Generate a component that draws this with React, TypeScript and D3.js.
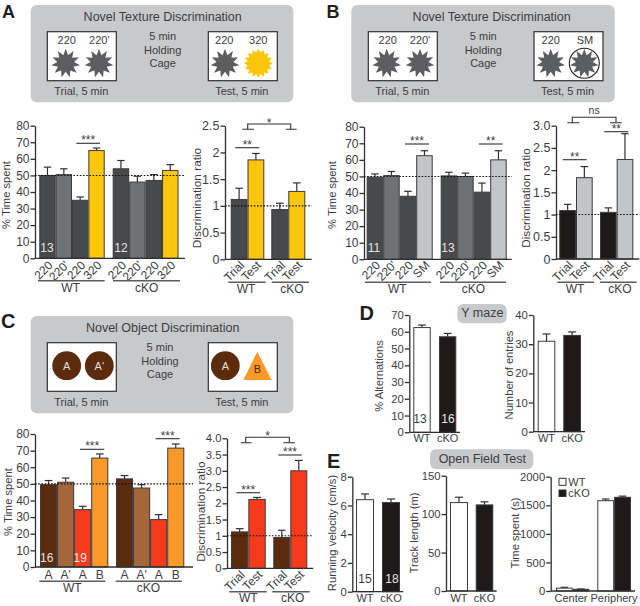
import React, { useEffect, useRef } from 'react';
import * as d3 from 'd3';

const FONT = '"Liberation Sans", Arial, sans-serif';
const INK = '#3c3d3f';
const DARK = '#48494b';
const MID = '#6f7174';
const YELLOW = '#fdc60b';
const LIGHT = '#c3c5c7';
const BLACK = '#1e1a19';
const BROWN = '#5a2b0c';
const TAN = '#a5673a';
const RED = '#f63b1c';
const ORANGE = '#fb9a2a';
const CARD = '#c7c9cb';

// Values
const timeTicks = [0, 10, 20, 30, 40, 50, 60, 70, 80];
const textureLabelsA = ['220', "220'", '220', '320', '220', "220'", '220', '320'];
const textureLabelsB = ['220', "220'", '220', 'SM', '220', "220'", '220', 'SM'];
const objectLabels = ['A', "A'", 'A', 'B', 'A', "A'", 'A', 'B'];
const ratioLabels = ['Trial', 'Test', 'Trial', 'Test'];
const genotypes = ['WT', 'cKO'];

const timeA = [50, 50.5, 35, 65, 54, 46, 47, 53];
const timeATop = [55, 54, 37, 66.5, 59, 49.5, 50.5, 56.5];
const ratioA = [1.12, 1.86, 0.93, 1.27];
const ratioATop = [1.33, 1.98, 1.05, 1.43];
const ratioATicks = [0, 0.5, 1, 1.5, 2, 2.5];
const ratioATickLabels = ['0', '0.5', '1', '1.5', '2', '2.5'];

const timeB = [49.5, 50.5, 38, 62.5, 50.3, 50, 40.5, 60];
const timeBTop = [51.5, 53, 41, 65.5, 52.5, 52, 46, 65.5];
const ratioB = [1.09, 1.83, 1.05, 2.24];
const ratioBTop = [1.23, 2.08, 1.15, 2.82];
const ratioBTicks = [0, 0.5, 1, 1.5, 2, 2.5, 3];
const ratioBTickLabels = ['0', '0.5', '1', '1.5', '2', '2.5', '3.0'];

const timeC = [49.5, 51, 34.5, 65.5, 53, 47.5, 28.5, 71.5];
const timeCTop = [52, 53.5, 36.5, 68, 55, 49.5, 31.5, 74];
const ratioC = [1.12, 2.12, 0.95, 3.0];
const ratioCTop = [1.22, 2.18, 1.17, 3.32];
const ratioCTicks = [0, 0.5, 1, 1.5, 2, 2.5, 3, 3.5, 4];
const ratioCTickLabels = ['0', '0.5', '1', '1.5', '2', '2.5', '3.0', '3.5', '4.0'];

const alternations = [62.5, 57];
const alternationsTop = [64, 59];
const alternationTicks = [0, 10, 20, 30, 40, 50, 60, 70];
const entries = [31, 33];
const entriesTop = [33.5, 34.2];
const entryTicks = [0, 10, 20, 30, 40];
const velocity = [6.4, 6.2];
const velocityTop = [6.8, 6.45];
const velocityTicks = [0, 2, 4, 6, 8];
const trackLength = [115, 112];
const trackLengthTop = [122, 116];
const trackTicks = [0, 50, 100, 150];
const zoneTime = [50, 30, 1580, 1640];
const zoneTimeTop = [65, 35, 1610, 1660];
const zoneTicks = [0, 500, 1000, 1500, 2000];
const zoneLabels = ['Center', 'Periphery'];

const textureAColors = [DARK, MID, DARK, YELLOW, DARK, MID, DARK, YELLOW];
const textureBColors = [DARK, MID, DARK, LIGHT, DARK, MID, DARK, LIGHT];
const objectColors = [BROWN, TAN, RED, ORANGE, BROWN, TAN, RED, ORANGE];
const pairColors = ['#ffffff', BLACK];
const zoneColors = ['#ffffff', BLACK, '#ffffff', BLACK];

type Note = { x: number; y: number; text: string; fill?: string };
type Star = { x1: number; x2: number; y: number; text: string };
type Bracket = { x1: number; x2: number; y: number; foot1: [number, number]; foot2: [number, number]; footY: number; text: string };
type Under = { x1: number; x2: number; text: string; cx: number };

type PanelProps = {
  axisX: number;
  endX: number;
  yTop: number;
  yBottom: number;
  domain: [number, number];
  ticks: number[];
  tickLabels?: string[];
  tickFont?: number;
  groups: [number, number][];
  values: number[];
  tops: number[];
  colors: string[];
  labels: string[];
  labelFont?: number;
  rotate?: boolean;
  labelY: number;
  yLabel: string;
  yLabelFont?: number;
  yLabelX: number;
  yLabelY: number;
  refLine?: number;
  notes?: Note[];
  stars?: Star[];
  brackets?: Bracket[];
  unders?: Under[];
  underY?: number;
  underTextY?: number;
};

const T = ({ x, y, size = 11, fill = INK, anchor = 'middle', children, ...rest }: any) => (
  <text x={x} y={y} fontSize={size} fill={fill} textAnchor={anchor} fontFamily={FONT} {...rest}>
    {children}
  </text>
);

function BarPanel(p: PanelProps) {
  const axisRef = useRef<SVGGElement>(null);
  const y = d3.scaleLinear().domain(p.domain).range([p.yBottom, p.yTop]);
  const labelFont = p.labelFont ?? 12;

  useEffect(() => {
    const axis = d3
      .axisLeft(y)
      .tickValues(p.ticks)
      .tickSize(4.5)
      .tickSizeOuter(0)
      .tickPadding(1)
      .tickFormat((d, i) => (p.tickLabels ? p.tickLabels[i] : String(d)));
    const g = d3.select(axisRef.current);
    g.selectAll('*').remove();
    g.call(axis as any);
    g.selectAll('path, line').attr('stroke', '#2f3032').attr('stroke-width', 1.3);
    g.selectAll('text').attr('fill', INK).attr('font-size', p.tickFont ?? 12).attr('font-family', FONT);
  }, []);

  // one band scale per group of touching bars
  let offset = 0;
  const xOf: { x: number; w: number }[] = [];
  p.groups.forEach((range) => {
    const n = Math.round(p.values.length / p.groups.length);
    const idx = d3.range(offset, offset + n);
    const band = d3.scaleBand<number>().domain(idx).range(range);
    idx.forEach((i) => xOf.push({ x: band(i) as number, w: band.bandwidth() }));
    offset += n;
  });

  return (
    <g>
      {p.values.map((v, i) => {
        const { x, w } = xOf[i];
        const c = x + w / 2;
        const capW = Math.min(w * 0.45, 8);
        return (
          <g key={i}>
            <line x1={c} x2={c} y1={y(v)} y2={y(p.tops[i])} stroke="#2f3032" strokeWidth={1.2} />
            <line x1={c - capW / 2} x2={c + capW / 2} y1={y(p.tops[i])} y2={y(p.tops[i])} stroke="#2f3032" strokeWidth={1.2} />
            <rect x={x + 0.5} y={y(v)} width={w - 1} height={y(0) - y(v)} fill={p.colors[i]} stroke="#3a3b3c" strokeWidth={1} />
          </g>
        );
      })}
      <g ref={axisRef} transform={`translate(${p.axisX},0)`} />
      <line x1={p.axisX} x2={p.endX} y1={y(0)} y2={y(0)} stroke="#2f3032" strokeWidth={1.3} />
      {p.refLine !== undefined && (
        <line x1={p.axisX} x2={p.endX} y1={y(p.refLine)} y2={y(p.refLine)} stroke="#111" strokeWidth={1.1} strokeDasharray="1.6 1.6" />
      )}
      {p.labels.map((l, i) => {
        const c = xOf[i].x + xOf[i].w / 2;
        return p.rotate ? (
          <T key={i} x={0} y={0} size={labelFont} anchor="end" transform={`translate(${c + 6},${p.labelY}) rotate(-45)`}>
            {l}
          </T>
        ) : (
          <T key={i} x={c} y={p.labelY} size={labelFont}>
            {l}
          </T>
        );
      })}
      <T x={0} y={0} size={p.yLabelFont ?? 11.2} transform={`translate(${p.yLabelX},${p.yLabelY}) rotate(-90)`}>
        {p.yLabel}
      </T>
      {(p.unders || []).map((u, i) => (
        <g key={i}>
          <line x1={u.x1} x2={u.x2} y1={p.underY} y2={p.underY} stroke="#5c5d5f" strokeWidth={1.5} />
          <T x={u.cx} y={p.underTextY} size={12}>
            {u.text}
          </T>
        </g>
      ))}
      {(p.stars || []).map((s, i) => (
        <g key={i}>
          <line x1={s.x1} x2={s.x2} y1={s.y} y2={s.y} stroke="#2f3032" strokeWidth={1.1} />
          <T x={(s.x1 + s.x2) / 2} y={s.y + 1} size={12}>
            {s.text}
          </T>
        </g>
      ))}
      {(p.brackets || []).map((b, i) => (
        <g key={i} stroke="#2f3032" strokeWidth={1.1} fill="none">
          <path d={`M${b.x1},${b.footY}V${b.y}H${b.x2}V${b.footY}`} />
          <path d={`M${b.foot1[0]},${b.footY}H${b.foot1[1]}M${b.foot2[0]},${b.footY}H${b.foot2[1]}`} />
          <T x={(b.x1 + b.x2) / 2} y={b.text === 'ns' ? b.y - 3 : b.y + 3} size={b.text === 'ns' ? 10.5 : 12} stroke="none">
            {b.text}
          </T>
        </g>
      ))}
      {(p.notes || []).map((n, i) => (
        <T key={i} x={n.x} y={n.y} size={12} fill={n.fill || '#e4e4e4'}>
          {n.text}
        </T>
      ))}
    </g>
  );
}

const radial = d3.lineRadial<number>().curve(d3.curveLinearClosed);

function Burst({ x, y, spikes, outer, inner, fill }: any) {
  const pts = d3.range(spikes * 2);
  const path = radial
    .angle((i) => (i * Math.PI) / spikes)
    .radius((i) => (i % 2 === 0 ? outer : inner))(pts) as string;
  return <path d={path} transform={`translate(${x},${y})`} fill={fill} />;
}

function Card({ x1, x2, y1, y2, title, titleX, midX, left, right, h = 49 }: any) {
  const boxTop = y1 + 26.7;
  return (
    <g>
      <rect x={x1} y={y1} width={x2 - x1} height={y2 - y1} rx={6} fill={CARD} />
      <T x={titleX} y={y1 + 15.5} size={12.5}>
        {title}
      </T>
      <T x={midX} y={y1 + 34.5}>5 min</T>
      <T x={midX} y={y1 + 48.5}>Holding</T>
      <T x={midX} y={y1 + 62}>Cage</T>
      <rect x={left} y={boxTop} width={69} height={h} fill="#fff" stroke="#2f3032" strokeWidth={1.2} />
      <rect x={right} y={boxTop} width={69} height={h} fill="#fff" stroke="#2f3032" strokeWidth={1.2} />
      <T x={left + 34} y={y1 + 90}>Trial, 5 min</T>
      <T x={right + 33.5} y={y1 + 90}>Test, 5 min</T>
    </g>
  );
}

const panels: PanelProps[] = [
  {
    axisX: 35, endX: 185, yTop: 125.7, yBottom: 258.3, domain: [0, 80], ticks: timeTicks,
    groups: [[39.3, 104.7], [112.7, 178.5]], values: timeA, tops: timeATop, colors: textureAColors,
    labels: textureLabelsA, rotate: true, labelY: 266, yLabel: '% Time spent', yLabelX: 10, yLabelY: 195, refLine: 50,
    notes: [{ x: 47, y: 251.7, text: '13' }, { x: 121, y: 251.7, text: '12' }],
    stars: [{ x1: 76.3, x2: 100, y: 143.3, text: '***' }],
    unders: [{ x1: 38, x2: 104.7, text: genotypes[0], cx: 70.7 }, { x1: 113, x2: 180, text: genotypes[1], cx: 146.7 }],
    underY: 280.7, underTextY: 292,
  },
  {
    axisX: 225, endX: 311.7, yTop: 125.7, yBottom: 259.3, domain: [0, 2.5], ticks: ratioATicks, tickLabels: ratioATickLabels, tickFont: 12.5,
    groups: [[230.7, 264.3], [271.3, 305.3]], values: ratioA, tops: ratioATop, colors: [DARK, YELLOW, DARK, YELLOW],
    labels: ratioLabels, rotate: true, labelY: 266, yLabel: 'Discrimination ratio', yLabelFont: 11.8, yLabelX: 201, yLabelY: 198, refLine: 1,
    stars: [{ x1: 235.3, x2: 259.3, y: 147.7, text: '**' }],
    brackets: [{ x1: 247.7, x2: 290.7, y: 124, foot1: [242.3, 254], foot2: [285.7, 296.7], footY: 129.3, text: '*' }],
    unders: [{ x1: 228.3, x2: 265.7, text: genotypes[0], cx: 246 }, { x1: 271.7, x2: 309, text: genotypes[1], cx: 292 }],
    underY: 282.3, underTextY: 293,
  },
  {
    axisX: 364, endX: 511.7, yTop: 126.7, yBottom: 259.3, domain: [0, 80], ticks: timeTicks,
    groups: [[366.7, 432.7], [440.7, 506.7]], values: timeB, tops: timeBTop, colors: textureBColors,
    labels: textureLabelsB, rotate: true, labelY: 266, yLabel: '% Time spent', yLabelX: 336, yLabelY: 195, refLine: 50,
    notes: [{ x: 374, y: 251.7, text: '11' }, { x: 448, y: 251.7, text: '13' }],
    stars: [{ x1: 405, x2: 429, y: 144, text: '***' }, { x1: 478.7, x2: 502.7, y: 144, text: '**' }],
    unders: [{ x1: 365, x2: 431, text: genotypes[0], cx: 397.3 }, { x1: 440, x2: 506, text: genotypes[1], cx: 473.3 }],
    underY: 282.3, underTextY: 293,
  },
  {
    axisX: 556, endX: 639.3, yTop: 125.7, yBottom: 259, domain: [0, 3], ticks: ratioBTicks, tickLabels: ratioBTickLabels, tickFont: 12.5,
    groups: [[559.3, 592.7], [600, 633.3]], values: ratioB, tops: ratioBTop, colors: [BLACK, LIGHT, BLACK, LIGHT],
    labels: ratioLabels, rotate: true, labelY: 266, yLabel: 'Discrimination ratio', yLabelFont: 11.7, yLabelX: 530, yLabelY: 198, refLine: 1,
    stars: [{ x1: 562.7, x2: 586.7, y: 159.7, text: '**' }, { x1: 604.3, x2: 628.3, y: 131.7, text: '**' }],
    brackets: [{ x1: 572.3, x2: 616, y: 117.3, foot1: [567.3, 579.3], foot2: [610, 621.7], footY: 122.7, text: 'ns' }],
    unders: [{ x1: 557.3, x2: 594, text: genotypes[0], cx: 575 }, { x1: 600, x2: 636.7, text: genotypes[1], cx: 620 }],
    underY: 282.3, underTextY: 293,
  },
  {
    axisX: 35, endX: 193, yTop: 434, yBottom: 567, domain: [0, 80], ticks: timeTicks,
    groups: [[40, 108.3], [116, 184.3]], values: timeC, tops: timeCTop, colors: objectColors,
    labels: objectLabels, labelY: 578.5, yLabel: '% Time spent', yLabelX: 12, yLabelY: 502, refLine: 50,
    notes: [{ x: 46.7, y: 561.7, text: '16' }, { x: 80.3, y: 561.7, text: '19' }],
    stars: [{ x1: 80, x2: 104.3, y: 449.3, text: '***' }, { x1: 155.7, x2: 179.7, y: 438.7, text: '***' }],
    unders: [{ x1: 39.3, x2: 105.3, text: genotypes[0], cx: 72.3 }, { x1: 115.7, x2: 181.7, text: genotypes[1], cx: 148.3 }],
    underY: 581.3, underTextY: 592.3,
  },
  {
    axisX: 227, endX: 313.3, yTop: 438.3, yBottom: 568.3, domain: [0, 4], ticks: ratioCTicks, tickLabels: ratioCTickLabels, tickFont: 11.3,
    groups: [[231, 265.7], [273.3, 307.3]], values: ratioC, tops: ratioCTop, colors: [BROWN, RED, BROWN, RED],
    labels: ratioLabels, rotate: true, labelY: 575.5, yLabel: 'Discrimination ratio', yLabelFont: 11.8, yLabelX: 204.5, yLabelY: 511.7, refLine: 1,
    stars: [{ x1: 236.3, x2: 260, y: 492.7, text: '***' }, { x1: 278.3, x2: 301.7, y: 455, text: '***' }],
    brackets: [{ x1: 245.7, x2: 289.3, y: 437.3, foot1: [241, 251.7], foot2: [283.3, 295], footY: 442.7, text: '*' }],
    unders: [{ x1: 229.3, x2: 266.7, text: genotypes[0], cx: 248.3 }, { x1: 272.3, x2: 309.7, text: genotypes[1], cx: 292.7 }],
    underY: 591.7, underTextY: 601.7,
  },
  {
    axisX: 409.3, endX: 460, yTop: 315, yBottom: 432.3, domain: [0, 70], ticks: alternationTicks, tickFont: 11.3,
    groups: [[413.3, 430.7], [439, 456.3]], values: alternations, tops: alternationsTop, colors: pairColors,
    labels: genotypes, labelFont: 11, labelY: 442, yLabel: '% Alternations', yLabelX: 383, yLabelY: 376,
    notes: [{ x: 420, y: 423.3, text: '13', fill: INK }, { x: 448, y: 423.3, text: '16' }],
  },
  {
    axisX: 533.3, endX: 585, yTop: 315, yBottom: 431.7, domain: [0, 40], ticks: entryTicks, tickFont: 11.3,
    groups: [[537.7, 555.3], [563.3, 581]], values: entries, tops: entriesTop, colors: pairColors,
    labels: genotypes, labelFont: 11, labelY: 442, yLabel: 'Number of entries', yLabelX: 512.7, yLabelY: 375,
  },
  {
    axisX: 352.3, endX: 403.3, yTop: 476.7, yBottom: 591.7, domain: [0, 8], ticks: velocityTicks, tickFont: 11.3,
    groups: [[356, 374], [382, 400]], values: velocity, tops: velocityTop, colors: pairColors,
    labels: genotypes, labelFont: 11, labelY: 601.5, yLabel: 'Running velocity (cm/s)', yLabelX: 335.7, yLabelY: 533,
    notes: [{ x: 365, y: 583.3, text: '15', fill: INK }, { x: 392, y: 583.3, text: '18' }],
  },
  {
    axisX: 446, endX: 496.7, yTop: 475.7, yBottom: 591, domain: [0, 150], ticks: trackTicks, tickFont: 11.3,
    groups: [[450, 468], [475.7, 493.3]], values: trackLength, tops: trackLengthTop, colors: pairColors,
    labels: genotypes, labelFont: 11, labelY: 601.5, yLabel: 'Track length (m)', yLabelX: 418.3, yLabelY: 533,
  },
  {
    axisX: 550.7, endX: 635, yTop: 476.7, yBottom: 591, domain: [0, 2000], ticks: zoneTicks, tickFont: 11.3,
    groups: [[556, 589.3], [597.3, 631]], values: zoneTime, tops: zoneTimeTop, colors: zoneColors,
    labels: [], labelY: 601.5, yLabel: 'Time spent (s)', yLabelX: 519, yLabelY: 533,
  },
];

export default function App() {
  return (
    <svg width={640} height={606} style={{ position: 'absolute', left: 0, top: 0, display: 'block', background: '#fff' }}>
      <T x={2} y={18} size={18} fill="#1f1f1f" anchor="start" fontWeight="bold">A</T>
      <T x={326.5} y={18} size={18} fill="#1f1f1f" anchor="start" fontWeight="bold">B</T>
      <T x={1} y={328} size={20} fill="#1f1f1f" anchor="start" fontWeight="bold">C</T>
      <T x={359.5} y={320} size={20} fill="#1f1f1f" anchor="start" fontWeight="bold">D</T>
      <T x={327} y={468.3} size={20} fill="#1f1f1f" anchor="start" fontWeight="bold">E</T>

      <Card x1={30.7} x2={293.3} y1={5} y2={102.3} title="Novel Texture Discrimination" titleX={162.7} midX={162.7} left={47.3} right={208.3} />
      <T x={66.7} y={44}>220</T>
      <T x={99.3} y={44}>220'</T>
      <T x={224.3} y={44}>220</T>
      <T x={258.3} y={44}>320</T>
      <Burst x={65.7} y={63.3} spikes={11} outer={14.5} inner={8.5} fill="#5c5d60" />
      <Burst x={99} y={63.3} spikes={11} outer={14.5} inner={8.5} fill="#5c5d60" />
      <Burst x={225} y={63.3} spikes={11} outer={14.5} inner={8.5} fill="#5c5d60" />
      <Burst x={258.3} y={63.3} spikes={16} outer={14.5} inner={11} fill={YELLOW} />

      <Card x1={351.3} x2={614.7} y1={5} y2={102.3} title="Novel Texture Discrimination" titleX={491.7} midX={483.3} left={368.3} right={534} />
      <T x={387.7} y={44}>220</T>
      <T x={420} y={44}>220'</T>
      <T x={550.7} y={44}>220</T>
      <T x={585} y={44}>SM</T>
      <Burst x={386.7} y={63.3} spikes={11} outer={14.5} inner={8.5} fill="#5c5d60" />
      <Burst x={420} y={63.3} spikes={11} outer={14.5} inner={8.5} fill="#5c5d60" />
      <Burst x={550.7} y={63.3} spikes={11} outer={14.5} inner={8.5} fill="#5c5d60" />
      <Burst x={584.3} y={63.3} spikes={11} outer={14.5} inner={8.5} fill="#5c5d60" />
      <circle cx={584.3} cy={63.3} r={15} fill="none" stroke="#1f1f1f" strokeWidth={1.1} />

      <Card x1={30.7} x2={293.3} y1={316} y2={413.3} title="Novel Object Discrimination" titleX={162.7} midX={160} left={47.3} right={208.3} h={48.6} />
      <circle cx={66.7} cy={365.7} r={14.4} fill={BROWN} />
      <circle cx={99.3} cy={365.7} r={14.4} fill={BROWN} />
      <circle cx={225.3} cy={365.7} r={14.4} fill={BROWN} />
      <path d="M257.3,351.7L271.7,380H243.3Z" fill={ORANGE} />
      <T x={66.7} y={369.5} fill="#eadfd5">A</T>
      <T x={99.3} y={369.5} fill="#eadfd5">A'</T>
      <T x={225.3} y={369.5} fill="#eadfd5">A</T>
      <T x={257.3} y={373} fill="#4b2a10">B</T>

      {panels.map((p, i) => (
        <BarPanel key={i} {...p} />
      ))}
      <T x={571} y={601.5}>{zoneLabels[0]}</T>
      <T x={614} y={601.5}>{zoneLabels[1]}</T>

      <rect x={559} y={478.3} width={7} height={7} fill="#fff" stroke="#2f3032" strokeWidth={1} />
      <rect x={559} y={490} width={7} height={6.5} fill={BLACK} stroke="#2f3032" strokeWidth={1} />
      <T x={568.3} y={485.5} anchor="start">WT</T>
      <T x={568.3} y={497} anchor="start">cKO</T>

      <rect x={457.3} y={304} width={49.4} height={19.3} rx={6} fill={CARD} />
      <T x={482.3} y={317.3} size={12.5}>Y maze</T>
      <rect x={430} y={449.3} width={103.3} height={19.7} rx={6} fill={CARD} />
      <T x={482.3} y={462.7} size={12.5}>Open Field Test</T>
    </svg>
  );
}
